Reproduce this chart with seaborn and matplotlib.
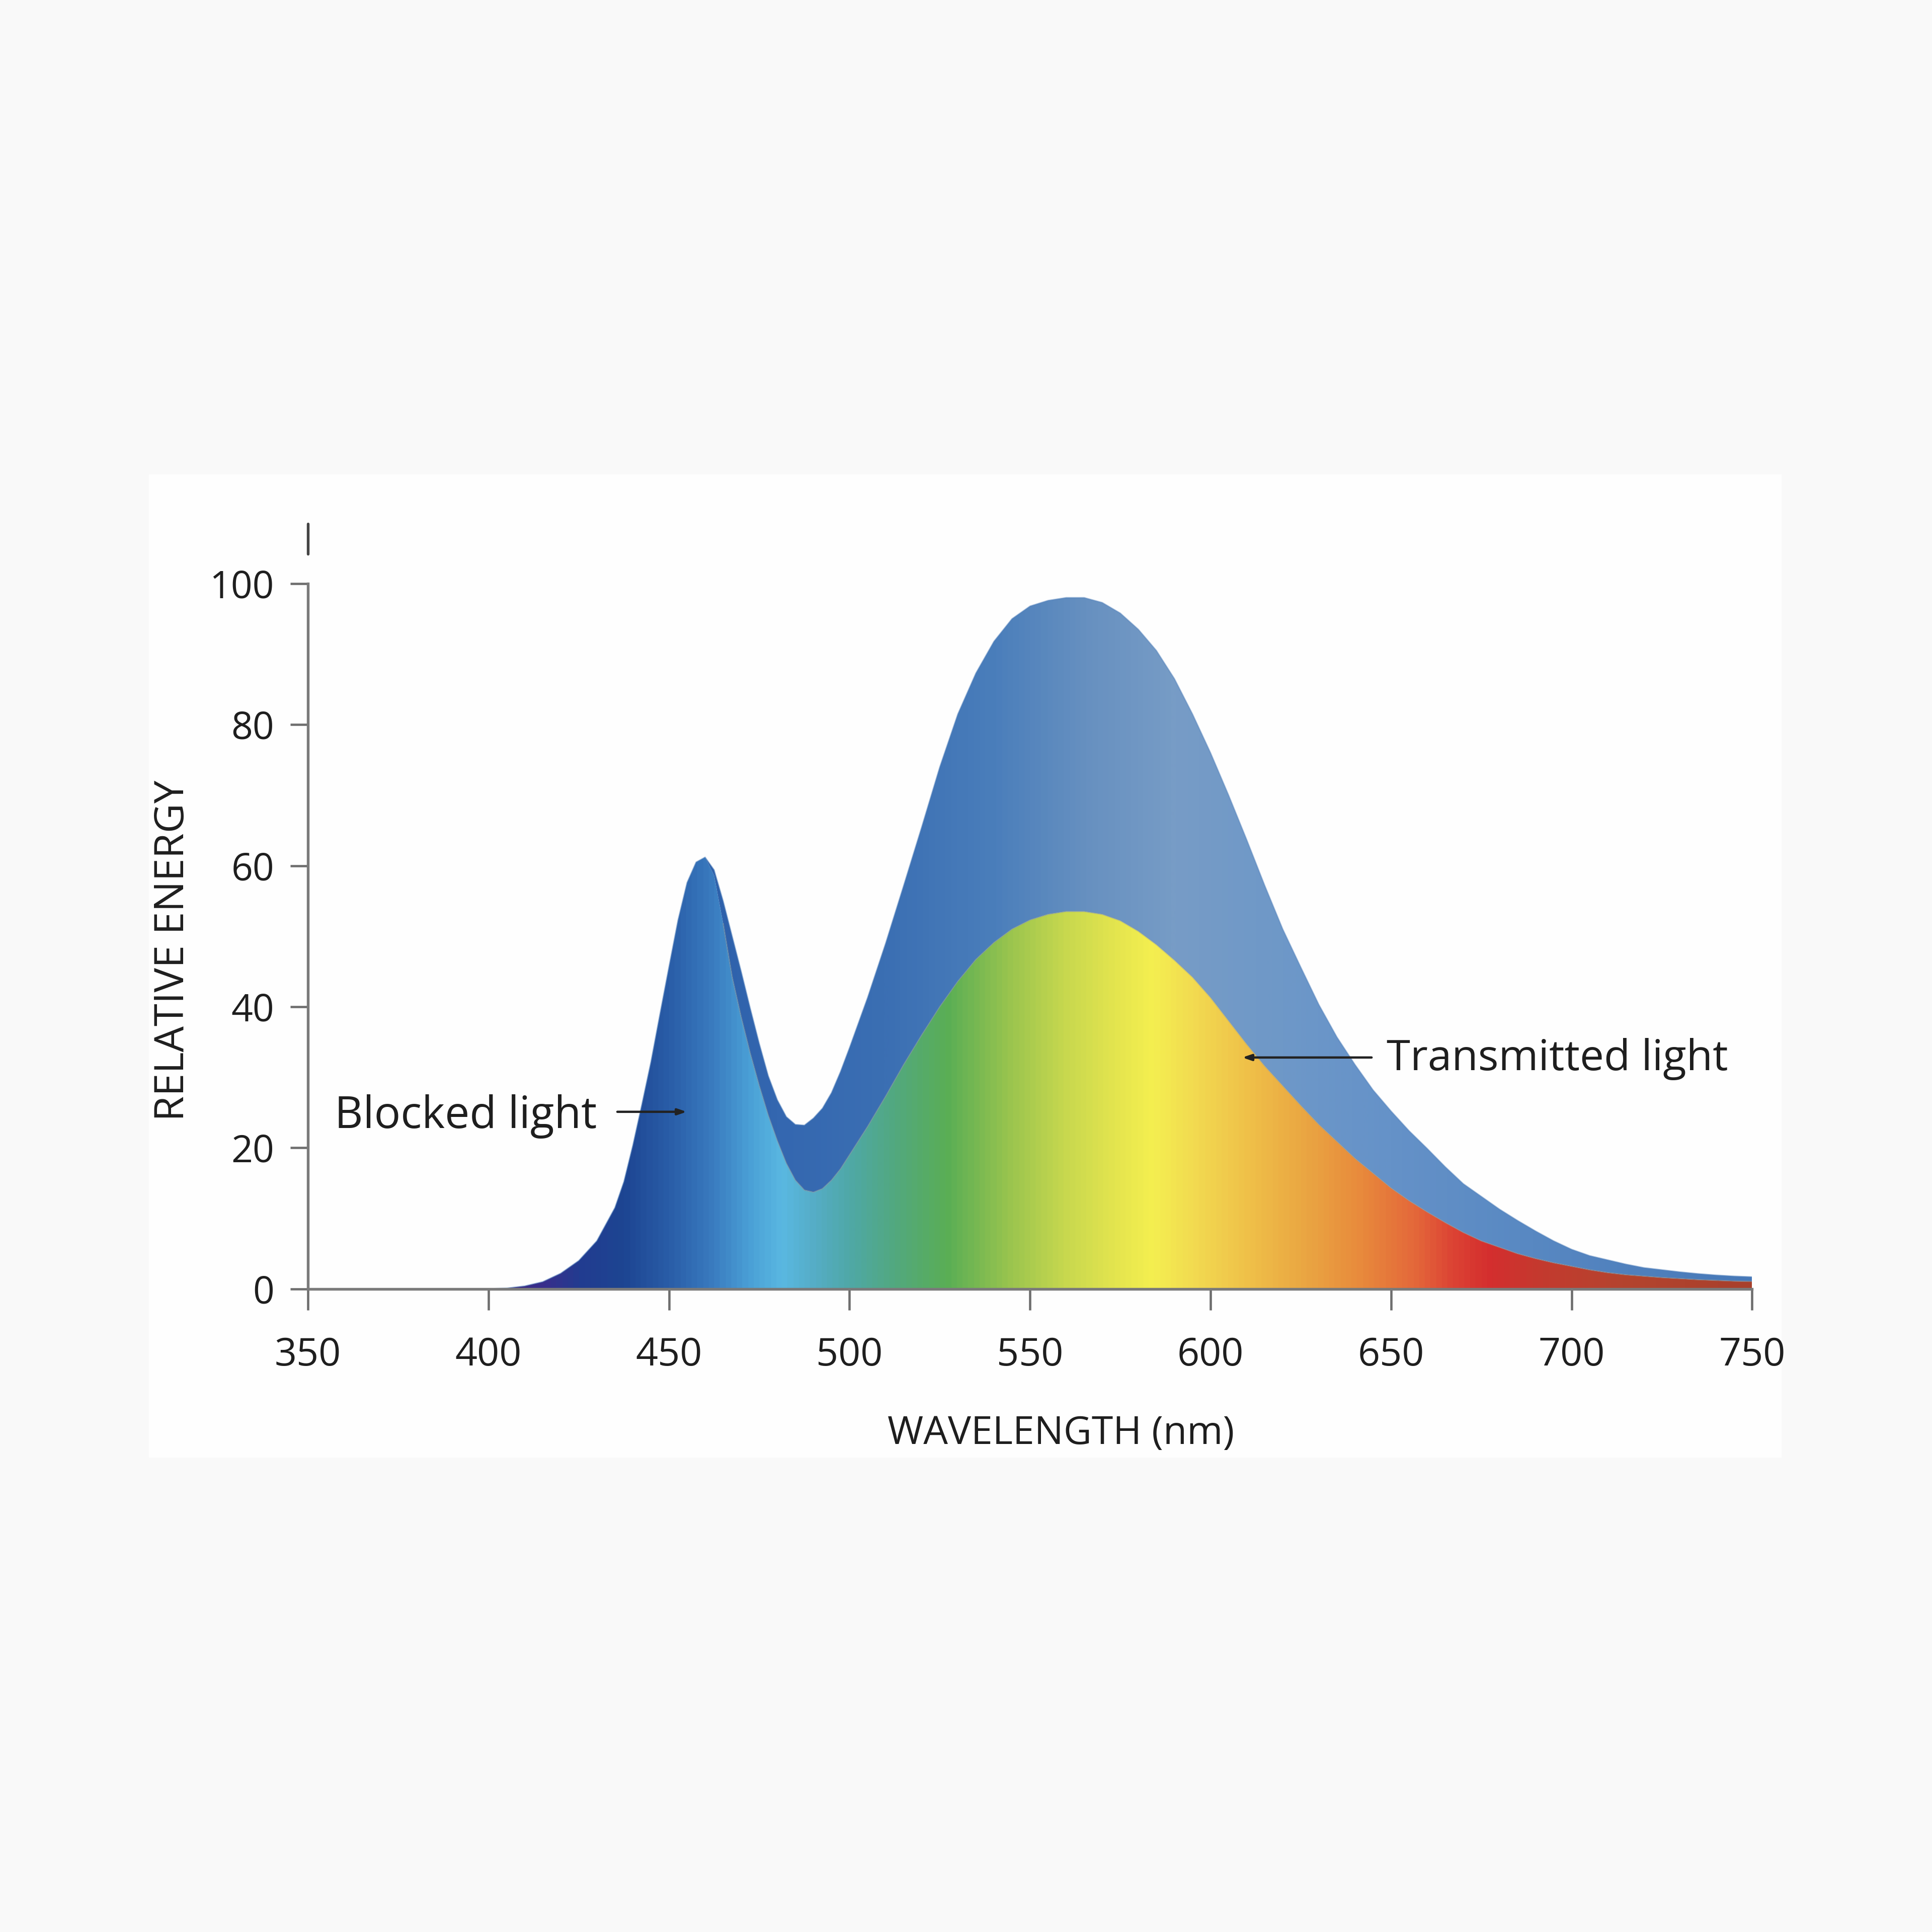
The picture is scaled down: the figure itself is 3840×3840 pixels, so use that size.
import numpy as np
import pandas as pd
import matplotlib
matplotlib.use("Agg")
import matplotlib.pyplot as plt
import seaborn as sns
from matplotlib.colors import LinearSegmentedColormap
from matplotlib.patches import Rectangle

# Spectrum readings (finer steps around the blue peak)
wavelength = [
    350, 355, 360, 365, 370, 375, 380, 385, 390, 395, 400, 405, 410, 415, 420, 425, 430,
    435, 437.5, 440, 442.5, 445, 447.5, 450, 452.5, 455, 457.5, 460,
    462.5, 465, 467.5, 470, 472.5, 475, 477.5, 480, 482.5, 485, 487.5, 490, 492.5, 495,
    497.5, 500,
    505, 510, 515, 520, 525, 530, 535, 540, 545, 550, 555, 560, 565, 570, 575,
    580, 585, 590, 595, 600, 605, 610, 615, 620, 625, 630, 635, 640, 645, 650,
    655, 660, 665, 670, 675, 680, 685, 690, 695, 700, 705, 710, 715, 720, 725,
    730, 735, 740, 745, 750,
]
# total light reaching the filter (blocked + transmitted)
total_energy = [
    0, 0, 0, 0, 0, 0, 0, 0, 0, 0, 0, 0.1, 0.4, 1.0, 2.2, 4.0, 6.8,
    11.5, 15.2, 20.4, 26.2, 32.2, 39.0, 45.7, 52.3, 57.6, 60.5, 61.2,
    59.4, 55.0, 50.0, 45.0, 39.8, 34.8, 30.2, 26.8, 24.4, 23.3, 23.2, 24.2, 25.6, 27.8,
    30.8, 34.2,
    41.3, 49.0, 57.2, 65.5, 74.0, 81.5, 87.3, 91.8, 95.0, 96.8, 97.6, 98.0, 98.0, 97.3, 95.8,
    93.5, 90.5, 86.5, 81.5, 76.0, 70.0, 63.7, 57.2, 51.0, 45.6, 40.3, 35.7, 31.8, 28.2, 25.2,
    22.4, 19.9, 17.3, 14.9, 13.1, 11.3, 9.7, 8.2, 6.8, 5.6, 4.7, 4.1, 3.5, 3.0, 2.7,
    2.4, 2.15, 1.95, 1.8, 1.7,
]
transmitted = [
    0, 0, 0, 0, 0, 0, 0, 0, 0, 0, 0, 0.1, 0.4, 1.0, 2.2, 4.0, 6.8,
    11.5, 15.2, 20.4, 26.2, 32.2, 39.0, 45.7, 52.3, 57.6, 60.5, 61.2,
    58.6, 51.8, 44.2, 38.5, 33.4, 28.8, 24.6, 21.0, 17.8, 15.4, 14.0, 13.7, 14.2, 15.4,
    17.0, 19.0,
    23.0, 27.3, 31.8, 36.0, 40.0, 43.6, 46.7, 49.1, 51.0, 52.3, 53.1, 53.5, 53.5, 53.1, 52.2,
    50.7, 48.8, 46.6, 44.2, 41.3, 38.0, 34.7, 31.6, 28.8, 26.0, 23.3, 20.9, 18.5, 16.4, 14.3,
    12.5, 10.9, 9.4, 8.0, 6.8, 5.9, 5.0, 4.3, 3.7, 3.2, 2.7, 2.3, 2.0, 1.8, 1.6,
    1.45, 1.3, 1.2, 1.1, 1.05,
]
x_ticks = [350, 400, 450, 500, 550, 600, 650, 700, 750]
y_ticks = [0, 20, 40, 60, 80, 100]

# colour stops for the visible spectrum and for the blocked band
spectrum_nm = [350, 405, 415, 425, 437, 450, 462, 472, 481, 490, 500, 512, 527,
               545, 560, 575, 584, 597, 612, 627, 642, 657, 668, 678, 692, 715, 750]
spectrum_hex = ["#3b2a80", "#3b2a80", "#382f8c", "#223c90", "#1d4592", "#2a5ea8",
                "#3a7cc0", "#4aa0d6", "#5ab8e2", "#55adc6", "#4fa8a6", "#52a880",
                "#5aae55", "#9cc54e", "#c8d84e", "#e6e64e", "#f4ef50", "#f2d850",
                "#efbe48", "#eaa542", "#e88a3c", "#e4683a", "#dc4234", "#d42e2e",
                "#c43a2e", "#b4442e", "#a8402c"]
blocked_nm = [350, 455, 480, 510, 540, 565, 590, 620, 650, 690, 750]
blocked_hex = ["#2b5ea8", "#2b5ea8", "#3467b0", "#3b6fb3", "#4a7ebb", "#6690c0",
               "#779cc6", "#6e98c8", "#6592c8", "#5888c2", "#4678b8"]

sns.set_style("ticks")
plt.rcParams["font.family"] = ["Open Sans", "DejaVu Sans"]

df = pd.DataFrame({"wavelength": wavelength, "total": total_energy,
                   "transmitted": transmitted})

fig = plt.figure(figsize=(12.8, 12.8), dpi=300, facecolor="#f9f9f9")
fig.patches.append(Rectangle((0.0772, 0.2455), 0.845, 0.509, transform=fig.transFigure,
                             facecolor="#fefefe", edgecolor="none", zorder=-5))
ax = fig.add_axes([0.1594, 0.3329, 0.7475, 0.3961])
ax.set_facecolor("none")

XMIN, XMAX, YTOP = 350, 750, 108.5


def gradient_row(nm_stops, hex_stops):
    pos = [(n - XMIN) / (XMAX - XMIN) for n in nm_stops]
    cmap = LinearSegmentedColormap.from_list("grad", list(zip(pos, hex_stops)))
    return cmap(np.linspace(0, 1, 1600))[np.newaxis, :, :3]


trans_poly = ax.fill_between(df["wavelength"], 0, df["transmitted"],
                             facecolor="none", edgecolor="none")
block_poly = ax.fill_between(df["wavelength"], df["transmitted"], df["total"],
                             facecolor="none", edgecolor="none")

for poly, (nm_s, hex_s) in [(trans_poly, (spectrum_nm, spectrum_hex)),
                            (block_poly, (blocked_nm, blocked_hex))]:
    im = ax.imshow(gradient_row(nm_s, hex_s), extent=[XMIN, XMAX, 0, YTOP],
                   aspect="auto", interpolation="bilinear", zorder=1)
    im.set_clip_path(poly.get_paths()[0], transform=ax.transData)

# soft outlines
sns.lineplot(data=df, x="wavelength", y="total", ax=ax, color="#4f7fbb",
             lw=0.6, alpha=0.45, zorder=2)
sns.lineplot(data=df[df["wavelength"] >= 465], x="wavelength", y="transmitted", ax=ax,
             color="#8f9a96", lw=0.7, alpha=0.35, zorder=2)

ax.set_xlim(XMIN, XMAX)
ax.set_ylim(0, YTOP)
ax.set_xticks(x_ticks)
ax.set_yticks(y_ticks)
sns.despine(ax=ax)
ax.spines["left"].set_bounds(0, 100)
for side in ["left", "bottom"]:
    ax.spines[side].set_color("#7a7a7a")
    ax.spines[side].set_linewidth(1.3)
    ax.spines[side].set_zorder(3)
ax.axvline(XMIN, ymin=104.2 / YTOP, ymax=1, color="#444444", lw=1.3, clip_on=False)

ax.tick_params(axis="y", length=8.3, width=1.1, color="#6e6e6e", pad=7.8,
               labelsize=18, labelcolor="#1e1e1e")
ax.tick_params(axis="x", length=10, width=1.1, color="#6e6e6e", pad=12.5,
               labelsize=18.5, labelcolor="#1e1e1e")

ax.set_xlabel("WAVELENGTH (nm)", fontsize=18.5, color="#1e1e1e")
ax.xaxis.set_label_coords(0.5213, -0.1645)
ax.set_ylabel("RELATIVE ENERGY", fontsize=19.5, color="#1e1e1e")
ax.yaxis.set_label_coords(-0.0794, 0.4423)

arrow = dict(arrowstyle="-|>,head_length=0.35,head_width=0.12", color="#222222",
             lw=1.1, shrinkA=0, shrinkB=0)
ax.text(357.4, 22.8, "Blocked light", fontsize=21, color="#1e1e1e",
        ha="left", va="baseline")
ax.annotate("", xy=(454.9, 25.1), xytext=(435.7, 25.1), arrowprops=arrow)
ax.text(648.7, 31.0, "Transmitted light", fontsize=20.5, color="#1e1e1e",
        ha="left", va="baseline")
ax.annotate("", xy=(608.8, 32.8), xytext=(644.6, 32.8), arrowprops=arrow)

fig.savefig("out.png", dpi=300, facecolor=fig.get_facecolor())
